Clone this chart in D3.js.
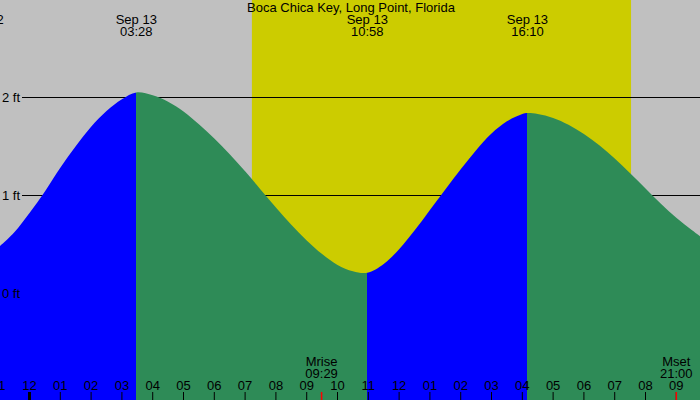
<!DOCTYPE html>
<html>
<head>
<meta charset="utf-8">
<script src="https://cdn.jsdelivr.net/npm/d3@7"></script>
<style>
html,body{margin:0;padding:0;background:#c0c0c0;}
svg{display:block;}
text{font-family:"Liberation Sans",Arial,sans-serif;font-size:13px;fill:#000;}
</style>
</head>
<body>
<svg id="chart" width="700" height="400"></svg>
<script>
// ---- data (hours relative to Sep 13 00:00) ----
const title = "Boca Chica Key, Long Point, Florida";
const tideHours = [-1, -0.5, 0, 0.5, 1, 1.5, 2, 2.5, 3, 3.467, 4, 4.5, 5, 5.5, 6, 6.5, 7, 7.5, 8, 8.5, 9, 9.5, 10, 10.5, 10.967,
                   11.5, 12, 12.5, 13, 13.5, 14, 14.5, 15, 15.5, 16, 16.167, 16.5, 17, 17.5, 18, 18.5, 19, 19.5, 20, 20.5, 21, 21.5, 22];
const tideHeights = [0.47, 0.62, 0.82, 1.04, 1.28, 1.50, 1.70, 1.86, 1.98, 2.05, 2.02, 1.955, 1.855, 1.725, 1.58, 1.42, 1.245, 1.06, 0.875, 0.70, 0.54, 0.40, 0.29, 0.225, 0.21,
                     0.30, 0.45, 0.64, 0.85, 1.06, 1.265, 1.46, 1.63, 1.755, 1.83, 1.84, 1.83, 1.79, 1.72, 1.625, 1.51, 1.375, 1.225, 1.07, 0.915, 0.77, 0.645, 0.53];
const extremeHours = [-1.51, 3.467, 10.967, 16.167];
const extremeDates = ["Sep 12", "Sep 13", "Sep 13", "Sep 13"];
const extremeTimes = ["22:29", "03:28", "10:58", "16:10"];
const extremeKinds = ["low", "high", "low", "high"];
const sunrise = 7.22, sunset = 19.53;
const moonHours = [9.483, 21.0];
const moonNames = ["Mrise", "Mset"];
const moonTimes = ["09:29", "21:00"];
const axisHours = d3.range(-1, 22);
const feetTicks = [0, 1, 2];
const viewStart = -0.958, viewEnd = 21.769;

const W = 700, H = 400;
const svg = d3.select("#chart");
const x = d3.scaleLinear().domain([viewStart, viewEnd]).range([0, W]);
const y = d3.scaleLinear().domain([0, 2]).range([293.3, 97.3]);

// background
svg.append("rect").attr("x",0).attr("y",0).attr("width",W).attr("height",H).attr("fill","#c0c0c0");
// daylight
svg.append("rect").attr("x",x(sunrise)).attr("y",0).attr("width",x(sunset)-x(sunrise)).attr("height",H).attr("fill","#cccc00");

// gridlines
svg.selectAll("line.grid").data(feetTicks).enter().append("line")
  .attr("x1",22).attr("x2",W).attr("y1",d=>Math.round(y(d))+0.5).attr("y2",d=>Math.round(y(d))+0.5)
  .attr("stroke","#000").attr("stroke-width",1);

// tide area
const pts = tideHours.map((h,i)=>[h,tideHeights[i]]);
const area = d3.area().x(d=>x(d[0])).y0(H).y1(d=>y(d[1])).curve(d3.curveCatmullRom.alpha(0.5));
svg.append("clipPath").attr("id","tideClip").append("path").attr("d",area(pts));
const bounds = [tideHours[0]].concat(extremeHours.filter(h=>h>tideHours[0])).concat([tideHours[tideHours.length-1]]);
const segs = [];
for(let i=0;i<bounds.length-1;i++){
  const endIdx = extremeHours.indexOf(bounds[i+1]);
  const rising = endIdx>=0 ? extremeKinds[endIdx]==="high" : extremeKinds[extremeKinds.length-1]==="low";
  segs.push({a:bounds[i], b:bounds[i+1], rising});
}
svg.append("g").attr("clip-path","url(#tideClip)").selectAll("rect").data(segs).enter().append("rect")
  .attr("x",d=>x(d.a)).attr("width",d=>x(d.b)-x(d.a)).attr("y",0).attr("height",H)
  .attr("fill",d=>d.rising?"#0000ff":"#2e8b57").attr("shape-rendering","crispEdges");

// y labels
svg.selectAll("text.ylab").data(feetTicks).enter().append("text")
  .attr("x",20).attr("y",d=>y(d)+4.5).attr("text-anchor","end").text(d=>d+" ft");

// title
svg.append("text").attr("x",351).attr("y",12).attr("text-anchor","middle").text(title);

// extreme labels
extremeHours.forEach((h,i)=>{
  svg.append("text").attr("x",x(h)).attr("y",24).attr("text-anchor","middle").text(extremeDates[i]);
  svg.append("text").attr("x",x(h)).attr("y",36).attr("text-anchor","middle").text(extremeTimes[i]);
});

// bottom axis
const fmtHour = h => { let v = ((h%12)+12)%12; if(v===0) v=12; return (v<10?"0":"")+v; };
svg.selectAll("line.tick").data(axisHours).enter().append("line")
  .attr("x1",d=>x(d)).attr("x2",d=>x(d)).attr("y1",392).attr("y2",H)
  .attr("stroke","#000").attr("stroke-width",d=>d===0?3:1);
svg.selectAll("text.tick").data(axisHours).enter().append("text")
  .attr("x",d=>x(d)).attr("y",390).attr("text-anchor","middle").text(d=>fmtHour(d));

// moon
moonHours.forEach((h,i)=>{
  svg.append("line").attr("x1",x(h)).attr("x2",x(h)).attr("y1",392).attr("y2",H).attr("stroke","#ff0000").attr("stroke-width",1.5);
  svg.append("text").attr("x",x(h)).attr("y",366).attr("text-anchor","middle").text(moonNames[i]);
  svg.append("text").attr("x",x(h)).attr("y",378).attr("text-anchor","middle").text(moonTimes[i]);
});
</script>
</body>
</html>
